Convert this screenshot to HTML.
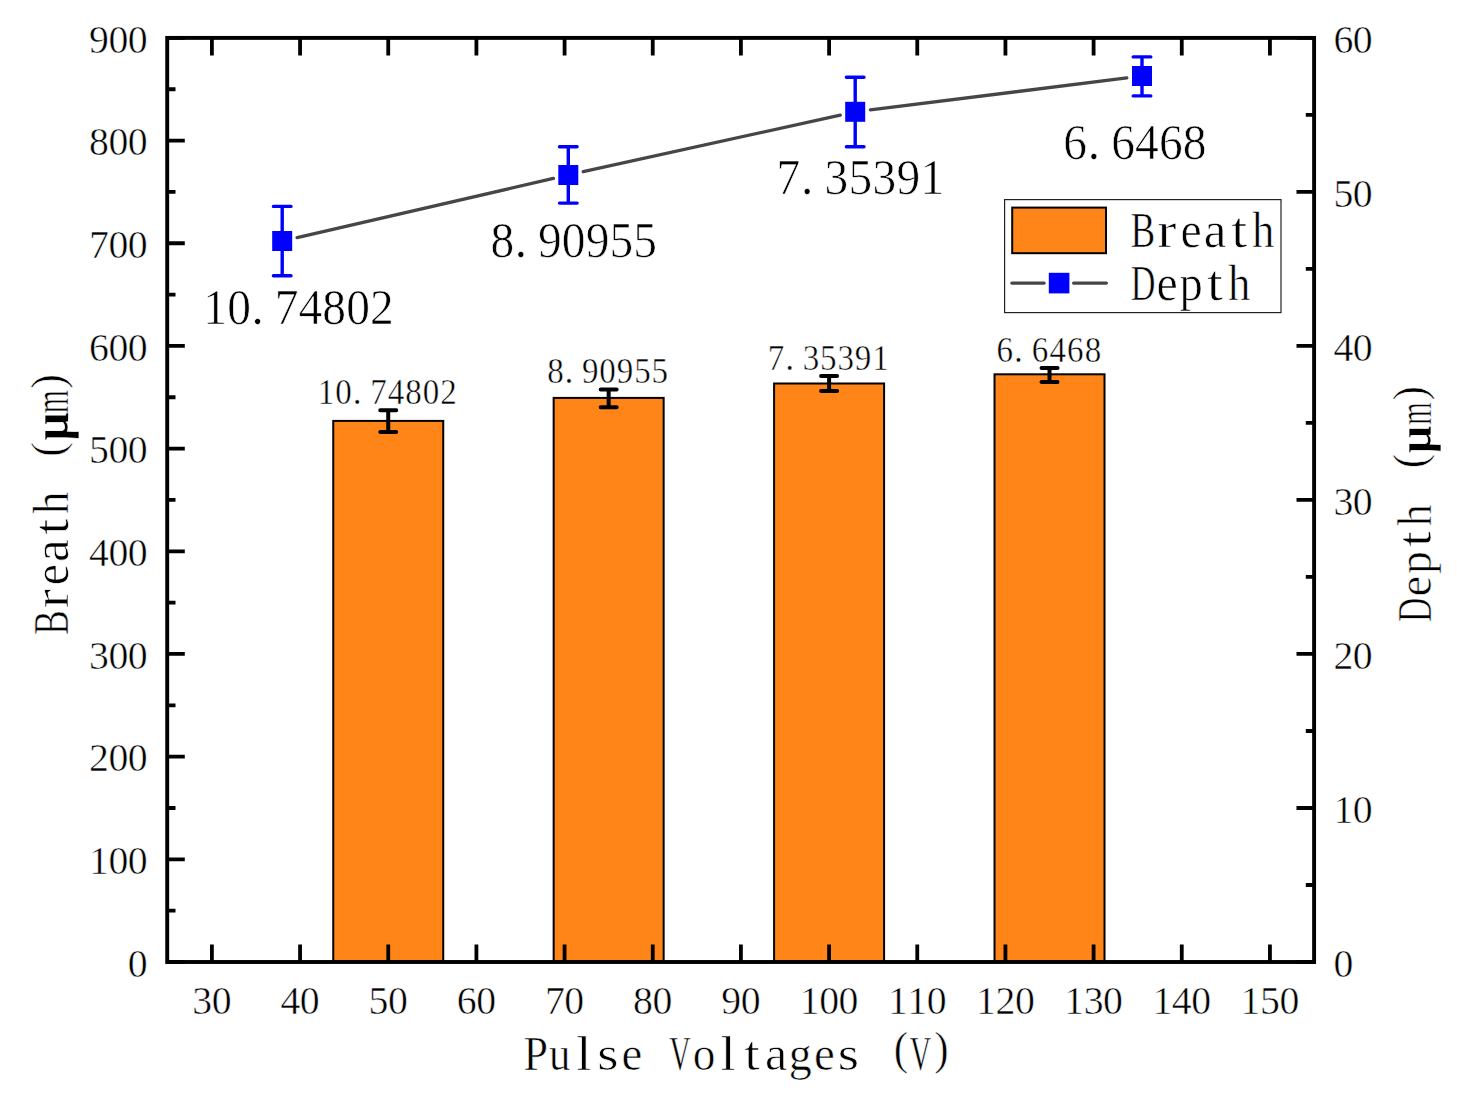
<!DOCTYPE html>
<html><head><meta charset="utf-8"><title>Chart</title>
<style>html,body{margin:0;padding:0;background:#fff;}svg{display:block;}text{font-family:"Liberation Serif",serif;}</style>
</head><body>
<svg width="1457" height="1095" viewBox="0 0 1457 1095">
<rect width="1457" height="1095" fill="#fff"/>
<rect x="333.24" y="420.90" width="110" height="541.10" fill="#FF8519" stroke="#000" stroke-width="2"/>
<rect x="553.66" y="397.90" width="110" height="564.10" fill="#FF8519" stroke="#000" stroke-width="2"/>
<rect x="774.09" y="383.50" width="110" height="578.50" fill="#FF8519" stroke="#000" stroke-width="2"/>
<rect x="994.52" y="374.30" width="110" height="587.70" fill="#FF8519" stroke="#000" stroke-width="2"/>
<path d="M211.90 962.00V944.40M211.90 37.90V55.50M300.07 962.00V944.40M300.07 37.90V55.50M388.24 962.00V944.40M388.24 37.90V55.50M476.41 962.00V944.40M476.41 37.90V55.50M564.58 962.00V944.40M564.58 37.90V55.50M652.75 962.00V944.40M652.75 37.90V55.50M740.92 962.00V944.40M740.92 37.90V55.50M829.09 962.00V944.40M829.09 37.90V55.50M917.26 962.00V944.40M917.26 37.90V55.50M1005.43 962.00V944.40M1005.43 37.90V55.50M1093.60 962.00V944.40M1093.60 37.90V55.50M1181.77 962.00V944.40M1181.77 37.90V55.50M1269.94 962.00V944.40M1269.94 37.90V55.50M167.20 962.00H184.80M167.20 910.66H175.50M167.20 859.32H184.80M167.20 807.98H175.50M167.20 756.64H184.80M167.20 705.31H175.50M167.20 653.97H184.80M167.20 602.63H175.50M167.20 551.29H184.80M167.20 499.95H175.50M167.20 448.61H184.80M167.20 397.27H175.50M167.20 345.93H184.80M167.20 294.59H175.50M167.20 243.26H184.80M167.20 191.92H175.50M167.20 140.58H184.80M167.20 89.24H175.50M167.20 37.90H184.80M1314.10 962.00H1296.50M1314.10 884.99H1305.80M1314.10 807.98H1296.50M1314.10 730.98H1305.80M1314.10 653.97H1296.50M1314.10 576.96H1305.80M1314.10 499.95H1296.50M1314.10 422.94H1305.80M1314.10 345.93H1296.50M1314.10 268.92H1305.80M1314.10 191.92H1296.50M1314.10 114.91H1305.80M1314.10 37.90H1296.50" stroke="#000" stroke-width="3.8" fill="none"/>
<rect x="167.2" y="37.9" width="1146.90" height="924.10" fill="none" stroke="#000" stroke-width="3.9"/>
<path d="M388.24 410.20V432.00M380.24 410.20H396.24M380.24 432.00H396.24M608.66 389.40V407.20M600.66 389.40H616.66M600.66 407.20H616.66M829.09 376.10V391.00M821.09 376.10H837.09M821.09 391.00H837.09M1049.52 368.00V382.00M1041.52 368.00H1057.52M1041.52 382.00H1057.52" stroke="#000" stroke-width="4" stroke-linecap="round" fill="none"/>
<path d="M297.11 237.56L553.39 178.44M583.24 171.71L840.26 115.09M870.38 109.90L1126.82 77.90" stroke="#464646" stroke-width="3.3" stroke-linecap="round" fill="none"/>
<path d="M282.20 206.40V275.80M273.40 206.40H291.00M273.40 275.80H291.00M568.30 146.70V203.10M559.50 146.70H577.10M559.50 203.10H577.10M855.20 77.20V146.80M846.40 77.20H864.00M846.40 146.80H864.00M1142.00 56.90V95.90M1133.20 56.90H1150.80M1133.20 95.90H1150.80" stroke="#0000FF" stroke-width="3.4" stroke-linecap="round" fill="none"/>
<rect x="272.20" y="231.00" width="20" height="20" fill="#0000FF"/>
<rect x="558.30" y="165.00" width="20" height="20" fill="#0000FF"/>
<rect x="845.20" y="101.80" width="20" height="20" fill="#0000FF"/>
<rect x="1132.00" y="66.00" width="20" height="20" fill="#0000FF"/>
<rect x="1004.6" y="199.6" width="276.4" height="113" fill="#fff" stroke="#222" stroke-width="1.2"/>
<rect x="1012.2" y="207.6" width="93.8" height="45.6" fill="#FF8519" stroke="#000" stroke-width="2"/>
<path d="M1011.8 283.1H1044.2M1073.6 283.1H1106.4" stroke="#464646" stroke-width="3.2" stroke-linecap="round"/>
<rect x="1048.8" y="272.8" width="20.6" height="20.6" fill="#0000FF"/>
<g font-family="Liberation Serif, serif" fill="#000" text-anchor="middle" stroke="#fff" stroke-width="0.5">
<text transform="translate(137.80 976.80) scale(0.970 1)" font-size="41.00" stroke-width="0.53">0</text>
<text transform="translate(99.00 874.12) scale(0.970 1)" font-size="41.00" stroke-width="0.53">1</text>
<text transform="translate(118.40 874.12) scale(0.970 1)" font-size="41.00" stroke-width="0.53">0</text>
<text transform="translate(137.80 874.12) scale(0.970 1)" font-size="41.00" stroke-width="0.53">0</text>
<text transform="translate(99.00 771.44) scale(0.970 1)" font-size="41.00" stroke-width="0.53">2</text>
<text transform="translate(118.40 771.44) scale(0.970 1)" font-size="41.00" stroke-width="0.53">0</text>
<text transform="translate(137.80 771.44) scale(0.970 1)" font-size="41.00" stroke-width="0.53">0</text>
<text transform="translate(99.00 668.77) scale(0.970 1)" font-size="41.00" stroke-width="0.53">3</text>
<text transform="translate(118.40 668.77) scale(0.970 1)" font-size="41.00" stroke-width="0.53">0</text>
<text transform="translate(137.80 668.77) scale(0.970 1)" font-size="41.00" stroke-width="0.53">0</text>
<text transform="translate(99.00 566.09) scale(0.970 1)" font-size="41.00" stroke-width="0.53">4</text>
<text transform="translate(118.40 566.09) scale(0.970 1)" font-size="41.00" stroke-width="0.53">0</text>
<text transform="translate(137.80 566.09) scale(0.970 1)" font-size="41.00" stroke-width="0.53">0</text>
<text transform="translate(99.00 463.41) scale(0.970 1)" font-size="41.00" stroke-width="0.53">5</text>
<text transform="translate(118.40 463.41) scale(0.970 1)" font-size="41.00" stroke-width="0.53">0</text>
<text transform="translate(137.80 463.41) scale(0.970 1)" font-size="41.00" stroke-width="0.53">0</text>
<text transform="translate(99.00 360.73) scale(0.970 1)" font-size="41.00" stroke-width="0.53">6</text>
<text transform="translate(118.40 360.73) scale(0.970 1)" font-size="41.00" stroke-width="0.53">0</text>
<text transform="translate(137.80 360.73) scale(0.970 1)" font-size="41.00" stroke-width="0.53">0</text>
<text transform="translate(99.00 258.06) scale(0.970 1)" font-size="41.00" stroke-width="0.53">7</text>
<text transform="translate(118.40 258.06) scale(0.970 1)" font-size="41.00" stroke-width="0.53">0</text>
<text transform="translate(137.80 258.06) scale(0.970 1)" font-size="41.00" stroke-width="0.53">0</text>
<text transform="translate(99.00 155.38) scale(0.970 1)" font-size="41.00" stroke-width="0.53">8</text>
<text transform="translate(118.40 155.38) scale(0.970 1)" font-size="41.00" stroke-width="0.53">0</text>
<text transform="translate(137.80 155.38) scale(0.970 1)" font-size="41.00" stroke-width="0.53">0</text>
<text transform="translate(99.00 52.70) scale(0.970 1)" font-size="41.00" stroke-width="0.53">9</text>
<text transform="translate(118.40 52.70) scale(0.970 1)" font-size="41.00" stroke-width="0.53">0</text>
<text transform="translate(137.80 52.70) scale(0.970 1)" font-size="41.00" stroke-width="0.53">0</text>
<text transform="translate(1343.40 976.80) scale(0.970 1)" font-size="41.00" stroke-width="0.53">0</text>
<text transform="translate(1343.40 822.78) scale(0.970 1)" font-size="41.00" stroke-width="0.53">1</text>
<text transform="translate(1362.80 822.78) scale(0.970 1)" font-size="41.00" stroke-width="0.53">0</text>
<text transform="translate(1343.40 668.77) scale(0.970 1)" font-size="41.00" stroke-width="0.53">2</text>
<text transform="translate(1362.80 668.77) scale(0.970 1)" font-size="41.00" stroke-width="0.53">0</text>
<text transform="translate(1343.40 514.75) scale(0.970 1)" font-size="41.00" stroke-width="0.53">3</text>
<text transform="translate(1362.80 514.75) scale(0.970 1)" font-size="41.00" stroke-width="0.53">0</text>
<text transform="translate(1343.40 360.73) scale(0.970 1)" font-size="41.00" stroke-width="0.53">4</text>
<text transform="translate(1362.80 360.73) scale(0.970 1)" font-size="41.00" stroke-width="0.53">0</text>
<text transform="translate(1343.40 206.72) scale(0.970 1)" font-size="41.00" stroke-width="0.53">5</text>
<text transform="translate(1362.80 206.72) scale(0.970 1)" font-size="41.00" stroke-width="0.53">0</text>
<text transform="translate(1343.40 52.70) scale(0.970 1)" font-size="41.00" stroke-width="0.53">6</text>
<text transform="translate(1362.80 52.70) scale(0.970 1)" font-size="41.00" stroke-width="0.53">0</text>
<text transform="translate(202.20 1014.20) scale(0.970 1)" font-size="41.00" stroke-width="0.53">3</text>
<text transform="translate(221.60 1014.20) scale(0.970 1)" font-size="41.00" stroke-width="0.53">0</text>
<text transform="translate(290.37 1014.20) scale(0.970 1)" font-size="41.00" stroke-width="0.53">4</text>
<text transform="translate(309.77 1014.20) scale(0.970 1)" font-size="41.00" stroke-width="0.53">0</text>
<text transform="translate(378.54 1014.20) scale(0.970 1)" font-size="41.00" stroke-width="0.53">5</text>
<text transform="translate(397.94 1014.20) scale(0.970 1)" font-size="41.00" stroke-width="0.53">0</text>
<text transform="translate(466.71 1014.20) scale(0.970 1)" font-size="41.00" stroke-width="0.53">6</text>
<text transform="translate(486.11 1014.20) scale(0.970 1)" font-size="41.00" stroke-width="0.53">0</text>
<text transform="translate(554.88 1014.20) scale(0.970 1)" font-size="41.00" stroke-width="0.53">7</text>
<text transform="translate(574.28 1014.20) scale(0.970 1)" font-size="41.00" stroke-width="0.53">0</text>
<text transform="translate(643.05 1014.20) scale(0.970 1)" font-size="41.00" stroke-width="0.53">8</text>
<text transform="translate(662.45 1014.20) scale(0.970 1)" font-size="41.00" stroke-width="0.53">0</text>
<text transform="translate(731.22 1014.20) scale(0.970 1)" font-size="41.00" stroke-width="0.53">9</text>
<text transform="translate(750.62 1014.20) scale(0.970 1)" font-size="41.00" stroke-width="0.53">0</text>
<text transform="translate(809.69 1014.20) scale(0.970 1)" font-size="41.00" stroke-width="0.53">1</text>
<text transform="translate(829.09 1014.20) scale(0.970 1)" font-size="41.00" stroke-width="0.53">0</text>
<text transform="translate(848.49 1014.20) scale(0.970 1)" font-size="41.00" stroke-width="0.53">0</text>
<text transform="translate(897.86 1014.20) scale(0.970 1)" font-size="41.00" stroke-width="0.53">1</text>
<text transform="translate(917.26 1014.20) scale(0.970 1)" font-size="41.00" stroke-width="0.53">1</text>
<text transform="translate(936.66 1014.20) scale(0.970 1)" font-size="41.00" stroke-width="0.53">0</text>
<text transform="translate(986.03 1014.20) scale(0.970 1)" font-size="41.00" stroke-width="0.53">1</text>
<text transform="translate(1005.43 1014.20) scale(0.970 1)" font-size="41.00" stroke-width="0.53">2</text>
<text transform="translate(1024.83 1014.20) scale(0.970 1)" font-size="41.00" stroke-width="0.53">0</text>
<text transform="translate(1074.20 1014.20) scale(0.970 1)" font-size="41.00" stroke-width="0.53">1</text>
<text transform="translate(1093.60 1014.20) scale(0.970 1)" font-size="41.00" stroke-width="0.53">3</text>
<text transform="translate(1113.00 1014.20) scale(0.970 1)" font-size="41.00" stroke-width="0.53">0</text>
<text transform="translate(1162.37 1014.20) scale(0.970 1)" font-size="41.00" stroke-width="0.53">1</text>
<text transform="translate(1181.77 1014.20) scale(0.970 1)" font-size="41.00" stroke-width="0.53">4</text>
<text transform="translate(1201.17 1014.20) scale(0.970 1)" font-size="41.00" stroke-width="0.53">0</text>
<text transform="translate(1250.54 1014.20) scale(0.970 1)" font-size="41.00" stroke-width="0.53">1</text>
<text transform="translate(1269.94 1014.20) scale(0.970 1)" font-size="41.00" stroke-width="0.53">5</text>
<text transform="translate(1289.34 1014.20) scale(0.970 1)" font-size="41.00" stroke-width="0.53">0</text>
<text transform="translate(326.10 404.20) scale(0.930 1)" font-size="35.50" stroke-width="0.46">1</text>
<text transform="translate(343.60 404.20) scale(0.930 1)" font-size="35.50" stroke-width="0.46">0</text>
<text transform="translate(357.25 404.20)" font-size="35.50" stroke-width="0.46">.</text>
<text transform="translate(378.60 404.20) scale(0.930 1)" font-size="35.50" stroke-width="0.46">7</text>
<text transform="translate(396.10 404.20) scale(0.930 1)" font-size="35.50" stroke-width="0.46">4</text>
<text transform="translate(413.60 404.20) scale(0.930 1)" font-size="35.50" stroke-width="0.46">8</text>
<text transform="translate(431.10 404.20) scale(0.930 1)" font-size="35.50" stroke-width="0.46">0</text>
<text transform="translate(448.60 404.20) scale(0.930 1)" font-size="35.50" stroke-width="0.46">2</text>
<text transform="translate(555.40 382.80) scale(0.930 1)" font-size="35.50" stroke-width="0.46">8</text>
<text transform="translate(568.97 382.80)" font-size="35.50" stroke-width="0.46">.</text>
<text transform="translate(590.20 382.80) scale(0.930 1)" font-size="35.50" stroke-width="0.46">9</text>
<text transform="translate(607.60 382.80) scale(0.930 1)" font-size="35.50" stroke-width="0.46">0</text>
<text transform="translate(625.00 382.80) scale(0.930 1)" font-size="35.50" stroke-width="0.46">9</text>
<text transform="translate(642.40 382.80) scale(0.930 1)" font-size="35.50" stroke-width="0.46">5</text>
<text transform="translate(659.80 382.80) scale(0.930 1)" font-size="35.50" stroke-width="0.46">5</text>
<text transform="translate(776.10 369.80) scale(0.930 1)" font-size="35.50" stroke-width="0.46">7</text>
<text transform="translate(789.67 369.80)" font-size="35.50" stroke-width="0.46">.</text>
<text transform="translate(810.90 369.80) scale(0.930 1)" font-size="35.50" stroke-width="0.46">3</text>
<text transform="translate(828.30 369.80) scale(0.930 1)" font-size="35.50" stroke-width="0.46">5</text>
<text transform="translate(845.70 369.80) scale(0.930 1)" font-size="35.50" stroke-width="0.46">3</text>
<text transform="translate(863.10 369.80) scale(0.930 1)" font-size="35.50" stroke-width="0.46">9</text>
<text transform="translate(880.50 369.80) scale(0.930 1)" font-size="35.50" stroke-width="0.46">1</text>
<text transform="translate(1004.80 361.80) scale(0.930 1)" font-size="35.50" stroke-width="0.46">6</text>
<text transform="translate(1018.56 361.80)" font-size="35.50" stroke-width="0.46">.</text>
<text transform="translate(1040.08 361.80) scale(0.930 1)" font-size="35.50" stroke-width="0.46">6</text>
<text transform="translate(1057.72 361.80) scale(0.930 1)" font-size="35.50" stroke-width="0.46">4</text>
<text transform="translate(1075.36 361.80) scale(0.930 1)" font-size="35.50" stroke-width="0.46">6</text>
<text transform="translate(1093.00 361.80) scale(0.930 1)" font-size="35.50" stroke-width="0.46">8</text>
<text transform="translate(215.20 324.00) scale(0.930 1)" font-size="51.00" stroke-width="0.66">1</text>
<text transform="translate(239.00 324.00) scale(0.930 1)" font-size="51.00" stroke-width="0.66">0</text>
<text transform="translate(257.56 324.00)" font-size="51.00" stroke-width="0.66">.</text>
<text transform="translate(286.60 324.00) scale(0.930 1)" font-size="51.00" stroke-width="0.66">7</text>
<text transform="translate(310.40 324.00) scale(0.930 1)" font-size="51.00" stroke-width="0.66">4</text>
<text transform="translate(334.20 324.00) scale(0.930 1)" font-size="51.00" stroke-width="0.66">8</text>
<text transform="translate(358.00 324.00) scale(0.930 1)" font-size="51.00" stroke-width="0.66">0</text>
<text transform="translate(381.80 324.00) scale(0.930 1)" font-size="51.00" stroke-width="0.66">2</text>
<text transform="translate(502.30 257.20) scale(0.930 1)" font-size="51.00" stroke-width="0.66">8</text>
<text transform="translate(520.86 257.20)" font-size="51.00" stroke-width="0.66">.</text>
<text transform="translate(549.90 257.20) scale(0.930 1)" font-size="51.00" stroke-width="0.66">9</text>
<text transform="translate(573.70 257.20) scale(0.930 1)" font-size="51.00" stroke-width="0.66">0</text>
<text transform="translate(597.50 257.20) scale(0.930 1)" font-size="51.00" stroke-width="0.66">9</text>
<text transform="translate(621.30 257.20) scale(0.930 1)" font-size="51.00" stroke-width="0.66">5</text>
<text transform="translate(645.10 257.20) scale(0.930 1)" font-size="51.00" stroke-width="0.66">5</text>
<text transform="translate(788.30 194.20) scale(0.930 1)" font-size="51.00" stroke-width="0.66">7</text>
<text transform="translate(807.02 194.20)" font-size="51.00" stroke-width="0.66">.</text>
<text transform="translate(836.30 194.20) scale(0.930 1)" font-size="51.00" stroke-width="0.66">3</text>
<text transform="translate(860.30 194.20) scale(0.930 1)" font-size="51.00" stroke-width="0.66">5</text>
<text transform="translate(884.30 194.20) scale(0.930 1)" font-size="51.00" stroke-width="0.66">3</text>
<text transform="translate(908.30 194.20) scale(0.930 1)" font-size="51.00" stroke-width="0.66">9</text>
<text transform="translate(932.30 194.20) scale(0.930 1)" font-size="51.00" stroke-width="0.66">1</text>
<text transform="translate(1075.20 158.60) scale(0.930 1)" font-size="51.00" stroke-width="0.66">6</text>
<text transform="translate(1093.84 158.60)" font-size="51.00" stroke-width="0.66">.</text>
<text transform="translate(1123.00 158.60) scale(0.930 1)" font-size="51.00" stroke-width="0.66">6</text>
<text transform="translate(1146.90 158.60) scale(0.930 1)" font-size="51.00" stroke-width="0.66">4</text>
<text transform="translate(1170.80 158.60) scale(0.930 1)" font-size="51.00" stroke-width="0.66">6</text>
<text transform="translate(1194.70 158.60) scale(0.930 1)" font-size="51.00" stroke-width="0.66">8</text>
<text transform="translate(1142.80 247.00) scale(0.741 1)" font-size="50.00" stroke-width="0.65">B</text>
<text transform="translate(1166.90 247.00) scale(1.150 1)" font-size="50.00" stroke-width="0.65">r</text>
<text transform="translate(1191.00 247.00) scale(0.957 1)" font-size="50.00" stroke-width="0.65">e</text>
<text transform="translate(1215.10 247.00) scale(1.025 1)" font-size="50.00" stroke-width="0.65">a</text>
<text transform="translate(1239.20 247.00) scale(1.150 1)" font-size="50.00" stroke-width="0.65">t</text>
<text transform="translate(1263.30 247.00) scale(0.895 1)" font-size="50.00" stroke-width="0.65">h</text>
<text transform="translate(1143.10 299.80) scale(0.684 1)" font-size="50.00" stroke-width="0.65">D</text>
<text transform="translate(1167.10 299.80) scale(0.957 1)" font-size="50.00" stroke-width="0.65">e</text>
<text transform="translate(1191.10 299.80) scale(0.932 1)" font-size="50.00" stroke-width="0.65">p</text>
<text transform="translate(1215.10 299.80) scale(1.150 1)" font-size="50.00" stroke-width="0.65">t</text>
<text transform="translate(1239.10 299.80) scale(0.895 1)" font-size="50.00" stroke-width="0.65">h</text>
<text transform="translate(535.70 1069.60) scale(0.901 1)" font-size="49.00" stroke-width="0.64">P</text>
<text transform="translate(559.75 1069.60) scale(0.872 1)" font-size="49.00" stroke-width="0.64">u</text>
<text transform="translate(583.80 1069.60) scale(1.150 1)" font-size="49.00" stroke-width="0.64">l</text>
<text transform="translate(607.85 1069.60) scale(1.115 1)" font-size="49.00" stroke-width="0.64">s</text>
<text transform="translate(631.90 1069.60) scale(0.957 1)" font-size="49.00" stroke-width="0.64">e</text>
<text transform="translate(680.00 1069.60) scale(0.604 1)" font-size="49.00" stroke-width="0.64">V</text>
<text transform="translate(704.05 1069.60) scale(0.924 1)" font-size="49.00" stroke-width="0.64">o</text>
<text transform="translate(728.10 1069.60) scale(1.150 1)" font-size="49.00" stroke-width="0.64">l</text>
<text transform="translate(752.15 1069.60) scale(1.150 1)" font-size="49.00" stroke-width="0.64">t</text>
<text transform="translate(776.20 1069.60) scale(1.025 1)" font-size="49.00" stroke-width="0.64">a</text>
<text transform="translate(800.25 1069.60) scale(0.938 1)" font-size="49.00" stroke-width="0.64">g</text>
<text transform="translate(824.30 1069.60) scale(0.957 1)" font-size="49.00" stroke-width="0.64">e</text>
<text transform="translate(848.35 1069.60) scale(1.115 1)" font-size="49.00" stroke-width="0.64">s</text>
<text transform="translate(901.00 1063.92) scale(0.937 1)" font-size="46.06" stroke-width="0.60">(</text>
<text transform="translate(920.50 1069.60) scale(0.604 1)" font-size="49.00" stroke-width="0.64">V</text>
<text transform="translate(941.50 1063.92) scale(0.937 1)" font-size="46.06" stroke-width="0.60">)</text>
<text transform="rotate(-90) translate(-622.70 68.30) scale(0.741 1)" font-size="50.00" stroke-width="0.65">B</text>
<text transform="rotate(-90) translate(-598.70 68.30) scale(1.150 1)" font-size="50.00" stroke-width="0.65">r</text>
<text transform="rotate(-90) translate(-574.70 68.30) scale(0.957 1)" font-size="50.00" stroke-width="0.65">e</text>
<text transform="rotate(-90) translate(-550.70 68.30) scale(1.025 1)" font-size="50.00" stroke-width="0.65">a</text>
<text transform="rotate(-90) translate(-526.70 68.30) scale(1.150 1)" font-size="50.00" stroke-width="0.65">t</text>
<text transform="rotate(-90) translate(-502.70 68.30) scale(0.895 1)" font-size="50.00" stroke-width="0.65">h</text>
<text transform="rotate(-90) translate(-449.50 62.50) scale(0.938 1)" font-size="47.00" stroke-width="0.61">(</text>
<text transform="rotate(-90) translate(-426.50 68.30) scale(1.007 1)" font-size="50.00" stroke-width="0.65" font-weight="bold">μ</text>
<text transform="rotate(-90) translate(-401.60 68.30) scale(0.589 1)" font-size="50.00" stroke-width="0.65">m</text>
<text transform="rotate(-90) translate(-381.50 62.50) scale(0.938 1)" font-size="47.00" stroke-width="0.61">)</text>
<text transform="rotate(-90) translate(-609.80 1431.00) scale(0.684 1)" font-size="49.00" stroke-width="0.64">D</text>
<text transform="rotate(-90) translate(-586.20 1431.00) scale(0.957 1)" font-size="49.00" stroke-width="0.64">e</text>
<text transform="rotate(-90) translate(-562.60 1431.00) scale(0.932 1)" font-size="49.00" stroke-width="0.64">p</text>
<text transform="rotate(-90) translate(-539.00 1431.00) scale(1.150 1)" font-size="49.00" stroke-width="0.64">t</text>
<text transform="rotate(-90) translate(-515.40 1431.00) scale(0.895 1)" font-size="49.00" stroke-width="0.64">h</text>
<text transform="rotate(-90) translate(-461.00 1425.32) scale(0.937 1)" font-size="46.06" stroke-width="0.60">(</text>
<text transform="rotate(-90) translate(-439.60 1431.00) scale(1.007 1)" font-size="49.00" stroke-width="0.64" font-weight="bold">μ</text>
<text transform="rotate(-90) translate(-413.40 1431.00) scale(0.589 1)" font-size="49.00" stroke-width="0.64">m</text>
<text transform="rotate(-90) translate(-393.40 1425.32) scale(0.937 1)" font-size="46.06" stroke-width="0.60">)</text>
</g>
</svg>
</body></html>
